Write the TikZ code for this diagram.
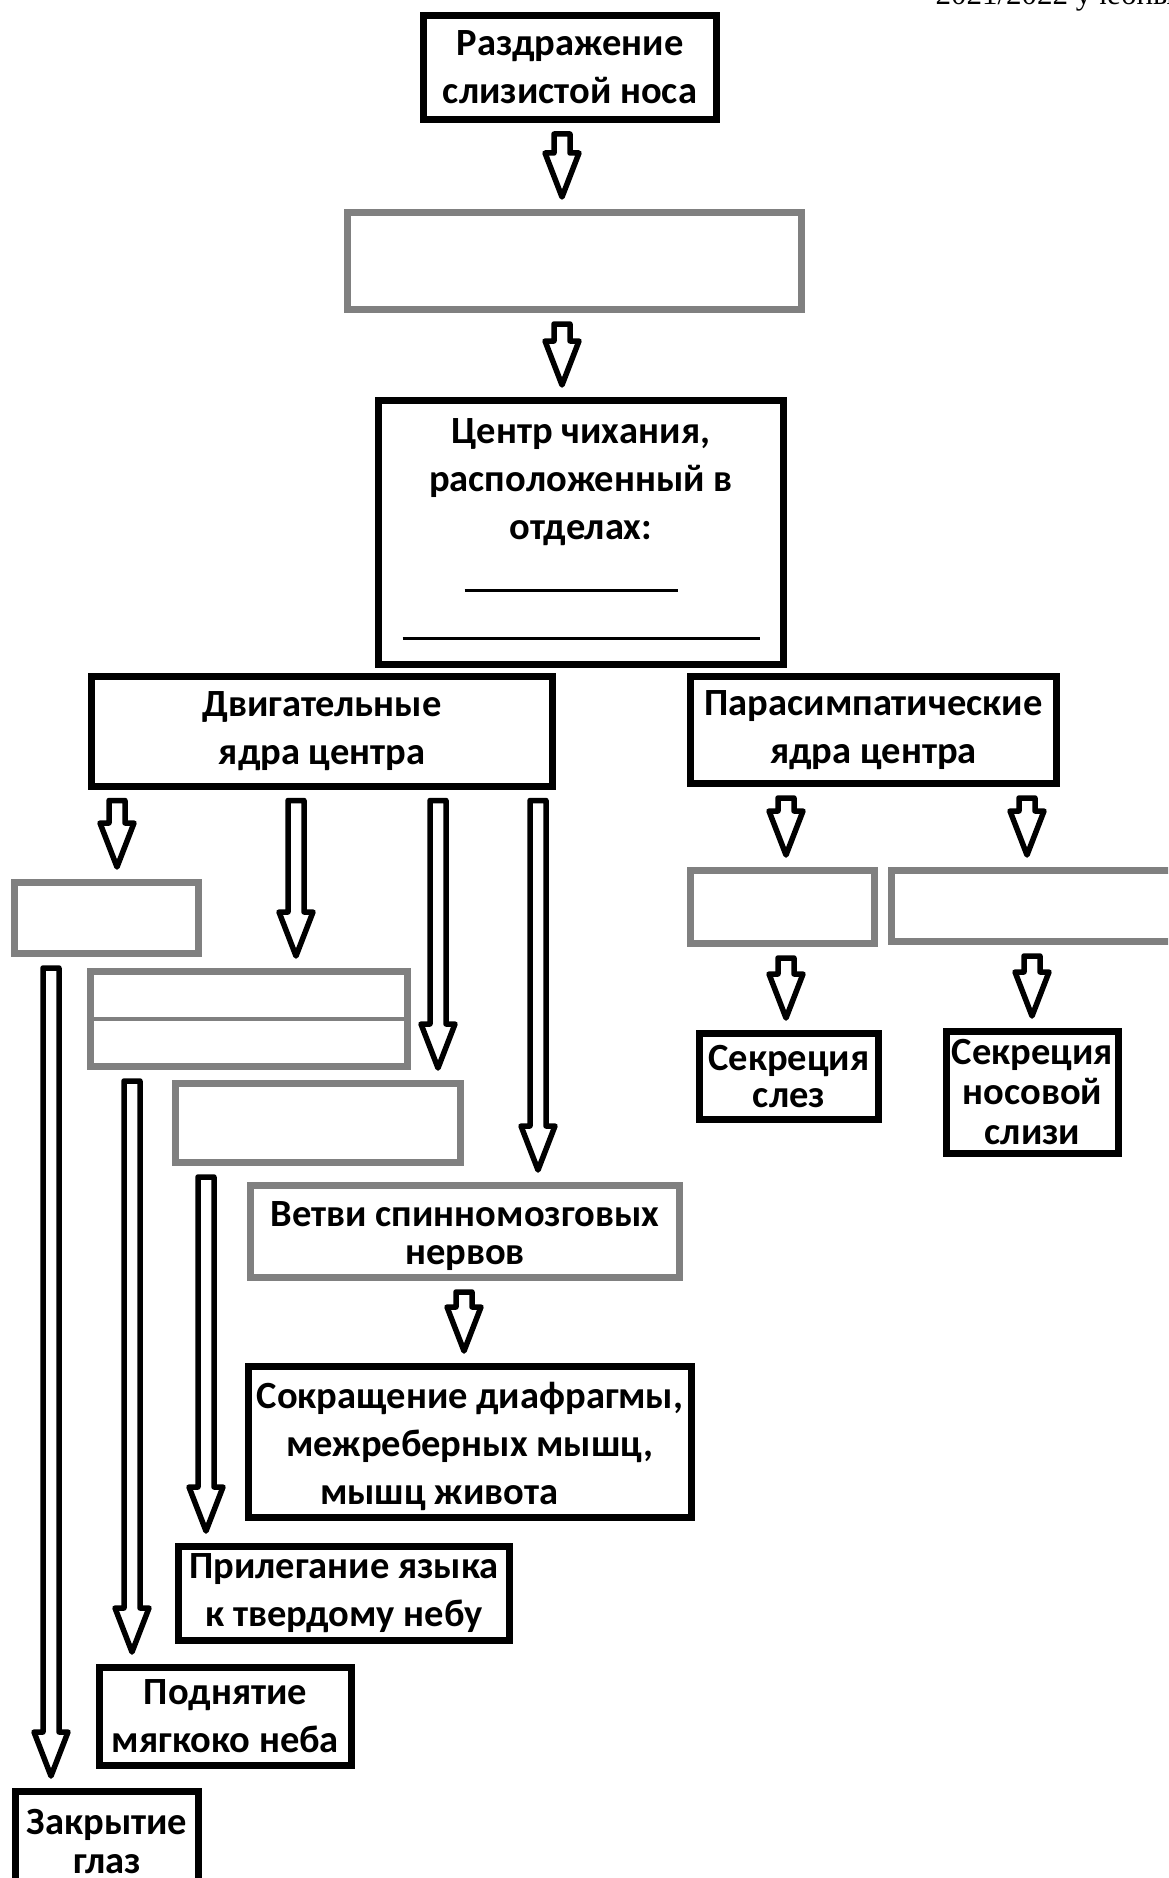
\documentclass[tikz,border=0pt]{standalone}
\usepackage{fontspec}
\setmainfont{Carlito}
\newfontfamily\headfont{Liberation Serif}
\usetikzlibrary{calc}

\begin{document}
\begin{tikzpicture}[x=1pt,y=-1pt,
            box/.style={draw,line width=7pt,inner sep=0pt,align=center,
                font=\fontsize{38.5}{#1}\selectfont\bfseries},
            box/.default=48,
            gbox/.style={box=#1,draw=gray},
            gbox/.default=48,
            hollow/.style={line width=5.5pt,line join=round,
                to path={let \p1=(\tikztostart),\p2=(\tikztotarget) in
                    (\x1-8pt,\y1-11pt) -- (\x1+8pt,\y1-11pt) -- (\x1+8pt,\y2+56pt) -- (\x1+17pt,\y2+56pt)
                    -- (\x1,\y2+12pt) -- (\x1-17pt,\y2+56pt) -- (\x1-8pt,\y2+56pt) -- cycle}}]
            \useasboundingbox (0,0) rectangle (1168,1878);
            \clip (0,0) rectangle (1168,1878);

            \node[anchor=base west,font=\headfont\fontsize{31}{34}\selectfont] (hdr) at (932,5) {2021/2022 учебный год};

            \node[box,minimum width=293pt,minimum height=104pt] (irr) at (570,67.5) {Раздражение\\слизистой носа};
            \node[gbox,minimum width=454pt,minimum height=97pt] (recp) at (574.5,261) {};
            \node[box,minimum width=405pt,minimum height=264pt] (cen) at (581,532.5)
                {Центр чихания,\\расположенный в\\отделах:\\[4.5pt]\hspace*{-20pt}\rule{213pt}{3pt}\\\rule{357pt}{3pt}\rule[-7pt]{0pt}{7pt}};
            \node[box,minimum width=461pt,minimum height=110pt] (mot) at (322,731) {Двигательные\\ядра центра};
            \node[box,minimum width=366pt,minimum height=107pt] (par) at (873.5,730) {Парасимпатические\\ядра центра};

            \node[gbox,minimum width=184pt,minimum height=71pt] (g1) at (106.5,918) {};
            \node[gbox,minimum width=317pt,minimum height=95pt] (dbl) at (249,1019) {};
            \node[gbox,minimum width=285pt,minimum height=79pt] (g3) at (318,1123) {};
            \node[gbox=38,minimum width=429pt,minimum height=92pt] (spin) at (465,1231.5)
                {\rule{0pt}{35pt}Ветви спинномозговых\\нервов};
            \node[box,minimum width=443pt,minimum height=151pt] (sok) at (470,1442)
                {\rule{0pt}{35pt}Сокращение диафрагмы,\\межреберных мышц,\\мышц живота\hspace*{1.6em}};
            \node[box,minimum width=331pt,minimum height=94pt] (pril) at (344,1593.5) {Прилегание языка\\к твердому небу};
            \node[box,minimum width=252pt,minimum height=98pt] (podn) at (225.5,1716.5) {Поднятие\\мягкоко неба};
            \node[box=39,minimum width=183pt,minimum height=100pt] (zakr) at (107,1841.5) {Закрытие\\глаз};

            \node[gbox,minimum width=184pt,minimum height=73pt] (gl) at (782.5,907) {};
            \node[gbox,minimum width=315pt,minimum height=71pt] (gr) at (1049,906) {};
            \node[box=37,minimum width=179pt,minimum height=86pt] (sl) at (789,1076.5) {Секреция\\слез};
            \node[box=40,minimum width=172pt,minimum height=122pt] (nos) at (1032.5,1092.5) {Секреция\\носовой\\слизи};

            \draw[gray,line width=4pt] (dbl.west) -- (dbl.east);

            \coordinate (xa) at (562,0);
            \coordinate (xb1) at (117,0);
            \coordinate (xb2) at (296,0);
            \coordinate (xb3) at (438,0);
            \coordinate (xb4) at (538,0);
            \coordinate (xc1) at (51,0);
            \coordinate (xc2) at (132,0);
            \coordinate (xc3) at (206,0);
            \coordinate (xd) at (464,0);
            \coordinate (xp1) at (786,0);
            \coordinate (xp2) at (1027,0);
            \coordinate (xq2) at (1032,0);

            \draw[hollow] (irr.south -| xa) to (recp.north -| xa);
            \draw[hollow] (recp.south -| xa) to (cen.north -| xa);
            \draw[hollow] (mot.south -| xb1) to (g1.north -| xb1);
            \draw[hollow] (mot.south -| xb2) to (dbl.north -| xb2);
            \draw[hollow] (mot.south -| xb3) to (g3.north -| xb3);
            \draw[hollow] (mot.south -| xb4) to (spin.north -| xb4);
            \draw[hollow] (g1.south -| xc1) to (zakr.north -| xc1);
            \draw[hollow] (dbl.south -| xc2) to (podn.north -| xc2);
            \draw[hollow] (g3.south -| xc3) to (pril.north -| xc3);
            \draw[hollow] (spin.south -| xd) to (sok.north -| xd);
            \draw[hollow] (par.south -| xp1) to (gl.north -| xp1);
            \draw[hollow] (par.south -| xp2) to (gr.north -| xp2);
            \draw[hollow] (gl.south -| xp1) to (sl.north -| xp1);
            \draw[hollow] (gr.south -| xq2) to (nos.north -| xq2);
        \end{tikzpicture}
\end{document}
